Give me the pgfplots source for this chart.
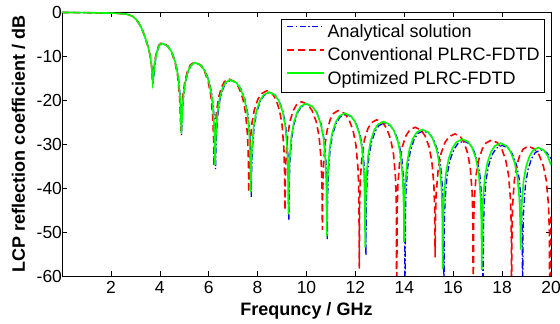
\documentclass[border=0pt]{standalone}
\usepackage{fontspec}
\setmainfont{Liberation Sans}
\usepackage{pgfplots}
\pgfplotsset{compat=1.18}
\begin{document}
\begin{tikzpicture}
\begin{axis}[name=ax, at={(0,0)}, anchor=south west,
  scale only axis, width=489bp, height=264bp,
  xmin=0, xmax=20, ymin=-60, ymax=0,
  xtick={2,4,...,20}, ytick={-60,-50,...,0},
  tick align=inside, major tick length=5bp,
  every tick/.style={black, line width=0.6bp},
  axis line style={line width=0.8bp},
  /pgf/number format/assume math mode=true,
  ticklabel style={font=\fontsize{17.5bp}{20bp}\selectfont},
  xticklabel style={yshift=-2bp},
  yticklabel style={xshift=3.5bp},
  xlabel={Frequncy / GHz},
  ylabel={LCP reflection coefficient / dB},
  label style={font=\fontsize{18bp}{21bp}\selectfont\bfseries},
  xlabel style={at={(axis description cs:0.5,-0.1515)}, anchor=base},
  ylabel style={at={(axis description cs:-0.0757,0.5)}, anchor=base},
  legend style={at={(axis description cs:0.98773,0.97348)}, anchor=north east,
    font=\fontsize{18bp}{21bp}\selectfont, draw=black, line width=0.6bp,
    inner xsep=5bp, inner ysep=4.75bp, row sep=7bp, column sep=2.7bp,
    nodes={inner sep=0pt, text height=13bp, text depth=3.5bp}},
  legend cell align=left,
  legend image code/.code={\draw[#1] (0bp,6bp) -- (37bp,6bp);},
]
\addplot[blue, line width=1.3bp, dash pattern=on 6bp off 2.5bp on 1.5bp off 2.5bp] coordinates {
(0,-0.1)(1,-0.15)(2,-0.25)(2.4,-0.35)(2.65,-0.5)(2.9,-1)(3.05,-1.8)(3.19,-3)(3.3,-4.3)(3.39,-5.6)(3.52,-7.9)(3.6,-9.8)(3.65,-11.6)(3.68,-13.3)(3.72,-16.3)
(3.742,-15.2)(3.779,-12.96)(3.831,-10.75)(3.905,-8.78)(3.979,-7.67)(4.09,-7.1)(4.33,-7.75)(4.49,-9.03)(4.65,-11.49)(4.762,-14.76)(4.842,-19.72)(4.874,-24.13)(4.89,-28)
(4.901,-26.08)(4.924,-23.10)(4.98,-18.85)(5.058,-15.77)(5.17,-13.40)(5.282,-12.13)(5.45,-11.5)(5.699,-12.15)(5.865,-13.45)(6.031,-15.92)(6.147,-19.25)(6.230,-24.44)(6.263,-29.54)(6.28,-35.7)
(6.292,-32.01)(6.317,-27.93)(6.378,-23.11)(6.463,-19.87)(6.585,-17.43)(6.707,-16.14)(6.89,-15.5)(7.145,-16.15)(7.315,-17.45)(7.485,-19.93)(7.604,-23.28)(7.689,-28.59)(7.723,-34.09)(7.74,-42)
(7.755,-36.18)(7.785,-31.2)(7.86,-26.04)(7.965,-22.72)(8.115,-20.24)(8.265,-18.95)(8.49,-18.3)(8.727,-18.95)(8.885,-20.26)(9.043,-22.76)(9.154,-26.11)(9.233,-31.49)(9.264,-37.24)(9.28,-47.2)
(9.294,-39.4)(9.323,-33.97)(9.395,-28.67)(9.496,-25.33)(9.64,-22.85)(9.784,-21.55)(10.0,-20.9)(10.255,-21.55)(10.425,-22.86)(10.595,-25.36)(10.714,-28.73)(10.799,-34.15)(10.833,-40.09)(10.85,-51.6)
(10.865,-42.17)(10.895,-36.4)(10.97,-31.01)(11.075,-27.66)(11.225,-25.16)(11.375,-23.85)(11.6,-23.2)(11.849,-23.85)(12.015,-25.16)(12.181,-27.66)(12.297,-31.03)(12.38,-36.46)(12.413,-42.42)(12.43,-55.3)
(12.445,-44.24)(12.475,-38.42)(12.55,-33.03)(12.655,-29.66)(12.805,-27.16)(12.955,-25.85)(13.18,-25.2)(13.435,-25.85)(13.605,-27.16)(13.775,-29.66)(13.894,-33.01)(13.979,-38.5)(14.013,-44.6)(14.03,-70)
(14.045,-46.4)(14.074,-40.3)(14.148,-34.85)(14.252,-31.46)(14.40,-28.96)(14.548,-27.65)(14.77,-27.0)(15.025,-27.65)(15.195,-28.96)(15.365,-31.46)(15.484,-34.85)(15.569,-40.3)(15.603,-46.4)(15.62,-70)
(15.636,-48.7)(15.669,-42.6)(15.75,-37.15)(15.863,-33.76)(16.025,-31.26)(16.187,-29.95)(16.43,-29.3)(16.667,-29.95)(16.825,-31.26)(16.983,-33.76)(17.094,-37.15)(17.173,-42.6)(17.204,-48.7)(17.22,-70)
(17.236,-49.7)(17.267,-43.6)(17.345,-38.15)(17.454,-34.76)(17.61,-32.26)(17.766,-30.95)(18.0,-30.3)(18.252,-30.95)(18.42,-32.26)(18.588,-34.76)(18.706,-38.15)(18.79,-43.6)(18.823,-49.7)(18.84,-70)
(18.855,-50.7)(18.884,-44.6)(18.958,-39.15)(19.062,-35.76)(19.21,-33.26)(19.358,-31.95)(19.58,-31.3)(19.826,-31.95)(20,-33.3)
};
\addlegendentry{Analytical solution}
\addplot[red, line width=1.6bp, dash pattern=on 7bp off 4bp] coordinates {
(0,-0.1)(1,-0.15)(2,-0.25)(2.4,-0.35)(2.65,-0.5)(2.9,-1)(3.05,-1.8)(3.19,-3)(3.3,-4.3)(3.39,-5.6)(3.52,-7.9)(3.6,-9.8)(3.65,-11.6)(3.68,-13.3)(3.70,-16)
(3.722,-15.1)(3.759,-12.86)(3.811,-10.65)(3.885,-8.68)(3.959,-7.57)(4.07,-7.0)(4.307,-7.65)(4.465,-8.93)(4.623,-11.39)(4.734,-14.66)(4.813,-19.62)(4.844,-24.03)(4.86,-27)
(4.871,-25.98)(4.894,-23.0)(4.95,-18.75)(5.028,-15.67)(5.14,-13.3)(5.252,-12.03)(5.42,-11.4)(5.66,-12.05)(5.82,-13.35)(5.98,-15.82)(6.092,-19.15)(6.172,-24.34)(6.204,-29.44)(6.22,-35)
(6.232,-31.71)(6.256,-27.63)(6.316,-22.81)(6.40,-19.57)(6.52,-17.13)(6.64,-15.84)(6.82,-15.2)(7.066,-15.85)(7.23,-17.15)(7.394,-19.63)(7.509,-22.98)(7.591,-28.29)(7.624,-33.79)(7.64,-41)
(7.655,-35.78)(7.684,-30.8)(7.758,-25.64)(7.862,-22.32)(8.01,-19.84)(8.158,-18.55)(8.38,-17.9)(8.602,-18.55)(8.75,-19.86)(8.898,-22.36)(9.002,-25.71)(9.076,-31.09)(9.105,-36.84)(9.12,-45)
(9.134,-38.9)(9.161,-33.47)(9.229,-28.17)(9.324,-24.83)(9.46,-22.35)(9.596,-21.05)(9.8,-20.4)(10.055,-21.05)(10.225,-22.36)(10.395,-24.86)(10.514,-28.23)(10.599,-33.65)(10.633,-39.59)(10.65,-49.5)
(10.663,-41.37)(10.689,-35.6)(10.754,-30.21)(10.845,-26.86)(10.975,-24.36)(11.105,-23.05)(11.3,-22.4)(11.558,-23.05)(11.73,-24.36)(11.902,-26.86)(12.022,-30.25)(12.108,-35.7)(12.143,-41.8)(12.16,-58.3)
(12.174,-43.9)(12.203,-37.8)(12.274,-32.35)(12.373,-28.96)(12.515,-26.46)(12.657,-25.15)(12.87,-24.5)(13.116,-25.15)(13.28,-26.46)(13.444,-28.96)(13.559,-32.35)(13.641,-37.8)(13.674,-43.9)(13.69,-70)
(13.705,-45.6)(13.735,-39.5)(13.81,-34.05)(13.915,-30.66)(14.065,-28.16)(14.215,-26.85)(14.44,-26.2)(14.686,-26.85)(14.85,-28.16)(15.014,-30.66)(15.129,-34.05)(15.211,-39.4)(15.244,-45.3)(15.26,-55.8)
(15.276,-46.67)(15.309,-40.9)(15.39,-35.55)(15.503,-32.16)(15.665,-29.66)(15.827,-28.35)(16.07,-27.7)(16.295,-28.35)(16.445,-29.66)(16.595,-32.16)(16.70,-35.55)(16.775,-41.0)(16.805,-47.1)(16.82,-70)
(16.835,-48.5)(16.865,-42.4)(16.94,-36.95)(17.045,-33.56)(17.195,-31.06)(17.345,-29.75)(17.57,-29.1)(17.816,-29.75)(17.98,-31.06)(18.144,-33.56)(18.259,-36.95)(18.341,-42.4)(18.374,-48.5)(18.39,-70)
(18.404,-49.9)(18.431,-43.8)(18.499,-38.35)(18.594,-34.96)(18.73,-32.46)(18.866,-31.15)(19.07,-30.5)(19.334,-31.15)(19.51,-32.46)(19.686,-34.96)(19.809,-38.35)(19.897,-43.8)(19.932,-49.9)(19.95,-70)(20,-46)
};
\addlegendentry{Conventional PLRC-FDTD}
\addplot[green, line width=1.6bp] coordinates {
(0,-0.1)(1,-0.15)(2,-0.25)(2.4,-0.35)(2.65,-0.5)(2.9,-1)(3.05,-1.8)(3.19,-3)(3.3,-4.3)(3.39,-5.6)(3.52,-7.9)(3.6,-9.8)(3.65,-11.6)(3.68,-13.3)(3.71,-16)
(3.732,-15.2)(3.769,-12.96)(3.821,-10.75)(3.895,-8.78)(3.969,-7.67)(4.08,-7.1)(4.32,-7.75)(4.48,-9.03)(4.64,-11.49)(4.752,-14.76)(4.832,-19.72)(4.864,-24.13)(4.88,-27.6)
(4.891,-26.08)(4.914,-23.10)(4.970,-18.85)(5.048,-15.77)(5.16,-13.40)(5.272,-12.13)(5.44,-11.5)(5.686,-12.15)(5.85,-13.45)(6.014,-15.92)(6.129,-19.25)(6.211,-24.44)(6.244,-29.54)(6.26,-34.8)
(6.272,-31.91)(6.297,-27.83)(6.358,-23.01)(6.443,-19.77)(6.565,-17.33)(6.687,-16.04)(6.87,-15.4)(7.125,-16.05)(7.295,-17.35)(7.465,-19.83)(7.584,-23.18)(7.669,-28.49)(7.703,-33.99)(7.72,-41)
(7.735,-36.08)(7.765,-31.10)(7.84,-25.94)(7.945,-22.62)(8.095,-20.14)(8.245,-18.85)(8.47,-18.2)(8.707,-18.85)(8.865,-20.16)(9.023,-22.66)(9.134,-26.01)(9.213,-31.39)(9.244,-37.14)(9.26,-46)
(9.274,-39.30)(9.303,-33.87)(9.375,-28.57)(9.476,-25.23)(9.62,-22.75)(9.764,-21.45)(9.98,-20.8)(10.235,-21.45)(10.405,-22.76)(10.575,-25.26)(10.694,-28.63)(10.779,-34.05)(10.813,-39.99)(10.83,-51)
(10.845,-41.97)(10.874,-36.2)(10.948,-30.81)(11.052,-27.46)(11.2,-24.96)(11.348,-23.65)(11.57,-23)(11.819,-23.65)(11.985,-24.96)(12.151,-27.46)(12.267,-30.83)(12.35,-36.26)(12.383,-42.22)(12.40,-53.5)
(12.415,-43.94)(12.444,-38.12)(12.518,-32.73)(12.622,-29.36)(12.77,-26.86)(12.918,-25.55)(13.14,-24.9)(13.395,-25.55)(13.565,-26.86)(13.735,-29.36)(13.854,-32.71)(13.939,-38.08)(13.973,-43.79)(13.99,-52.3)
(14.005,-45.29)(14.034,-39.79)(14.108,-34.48)(14.212,-31.13)(14.36,-28.66)(14.508,-27.35)(14.73,-26.7)(14.982,-27.35)(15.15,-28.66)(15.318,-31.16)(15.436,-34.55)(15.52,-39.98)(15.553,-46.0)(15.57,-58.5)
(15.586,-48.02)(15.619,-42.14)(15.70,-36.72)(15.813,-33.36)(15.975,-30.86)(16.137,-29.55)(16.38,-28.9)(16.617,-29.55)(16.775,-30.86)(16.933,-33.36)(17.044,-36.73)(17.123,-42.14)(17.154,-48.02)(17.17,-58.6)
(17.185,-48.86)(17.216,-43.02)(17.292,-37.61)(17.398,-34.26)(17.55,-31.76)(17.702,-30.45)(17.93,-29.8)(18.179,-30.45)(18.345,-31.75)(18.511,-34.21)(18.627,-37.56)(18.71,-42.8)(18.743,-48.07)(18.76,-54)
(18.774,-48.79)(18.803,-43.72)(18.875,-38.55)(18.976,-35.22)(19.12,-32.75)(19.264,-31.45)(19.48,-30.8)(19.711,-31.45)(19.865,-32.75)(20,-34.8)
};
\addlegendentry{Optimized PLRC-FDTD}
\end{axis}
\pgfresetboundingbox
\path[use as bounding box] ([xshift=-62bp,yshift=-48bp]ax.south west) rectangle ([xshift=9bp,yshift=12bp]ax.north east);
\end{tikzpicture}
\end{document}
